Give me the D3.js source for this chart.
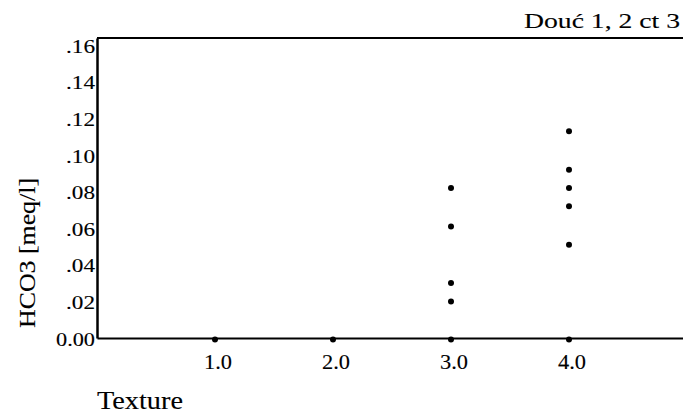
<!DOCTYPE html>
<html>
<head>
<meta charset="utf-8">
<script src="https://cdn.jsdelivr.net/npm/d3@7"></script>
<style>
  html, body { margin: 0; padding: 0; background: #fff; }
  svg { display: block; }
  text { font-family: "Liberation Serif", "Times New Roman", serif; fill: #000; stroke: #000; stroke-width: 0.12; }
</style>
</head>
<body>
<svg id="chart" width="683" height="418"></svg>
<script>
// ---- data ----
const texture = [1, 2, 3, 4, 3, 3, 3, 3, 4, 4, 4, 4, 4];
const hco3    = [0, 0, 0, 0, 0.082, 0.061, 0.030, 0.020, 0.113, 0.092, 0.082, 0.072, 0.051];
const yTickValues = [0, 0.02, 0.04, 0.06, 0.08, 0.10, 0.12, 0.14, 0.16];
const yTickLabels = ["0.00", ".02", ".04", ".06", ".08", ".10", ".12", ".14", ".16"];
const xTickValues = [1, 2, 3, 4];
const xTickLabels = ["1.0", "2.0", "3.0", "4.0"];
const titleText = "Douć 1, 2 ct 3";
const yTitle = "HCO3  [meq/l]";
const xTitle = "Texture";

// ---- layout ----
const svg = d3.select("#chart");
const mLeft = 97, mRight = 687, mTop = 38, mBottom = 338;
const x = d3.scaleLinear().domain([0, 5]).range([mLeft, mRight]);
const y = d3.scaleLinear().domain([0, 0.164]).range([mBottom, mTop]);

// points
const pts = texture.map((t, i) => ({ t, v: hco3[i] }));
svg.append("g").selectAll("circle").data(pts).join("circle")
  .attr("cx", d => x(d.t))
  .attr("cy", d => y(d.v) + (d.v === 0 ? 1.5 : 0))
  .attr("r", 3)
  .attr("fill", "#000");

// axes lines via d3 axes (no ticks drawn)
const yAxis = d3.axisLeft(y).tickValues(yTickValues).tickSize(0).tickFormat(() => "");
const gy = svg.append("g").attr("transform", `translate(${mLeft},0)`).call(yAxis);
gy.select(".domain").attr("stroke", "#000").attr("stroke-width", 2.5);

const xAxis = d3.axisBottom(x).tickValues(xTickValues).tickSize(0).tickFormat(() => "");
const gx = svg.append("g").attr("transform", `translate(0,${mBottom})`).call(xAxis);
gx.select(".domain").attr("stroke", "#000").attr("stroke-width", 2);

// top frame line
svg.append("line")
  .attr("x1", x(0)).attr("x2", 683)
  .attr("y1", y(0.164)).attr("y2", y(0.164))
  .attr("stroke", "#000").attr("stroke-width", 2);

// y tick labels
svg.append("g").selectAll("text").data(yTickValues).join("text")
  .attr("x", mLeft - 2)
  .attr("y", d => y(d) + 1)
  .attr("text-anchor", "end")
  .attr("dominant-baseline", "central")
  .attr("font-size", 19)
  .attr("textLength", (d, i) => yTickLabels[i].length === 4 ? 39 : 29)
  .attr("lengthAdjust", "spacingAndGlyphs")
  .text((d, i) => yTickLabels[i]);

// x tick labels
svg.append("g").selectAll("text").data(xTickValues).join("text")
  .attr("x", d => x(d) + 3)
  .attr("y", 362)
  .attr("text-anchor", "middle")
  .attr("dominant-baseline", "central")
  .attr("font-size", 20)
  .attr("textLength", 28)
  .attr("lengthAdjust", "spacingAndGlyphs")
  .text((d, i) => xTickLabels[i]);

// title
svg.append("text")
  .attr("x", 680).attr("y", 28)
  .attr("text-anchor", "end")
  .attr("font-size", 21)
  .attr("textLength", 156)
  .attr("lengthAdjust", "spacingAndGlyphs")
  .text(titleText);

// x title
svg.append("text")
  .attr("x", 97).attr("y", 409)
  .attr("font-size", 25)
  .attr("textLength", 86)
  .attr("lengthAdjust", "spacingAndGlyphs")
  .text(xTitle);

// y title
svg.append("text")
  .attr("transform", "translate(27,253) rotate(-90)")
  .attr("text-anchor", "middle")
  .attr("dominant-baseline", "central")
  .attr("font-size", 23)
  .attr("textLength", 150)
  .attr("lengthAdjust", "spacingAndGlyphs")
  .text(yTitle);
</script>
</body>
</html>
